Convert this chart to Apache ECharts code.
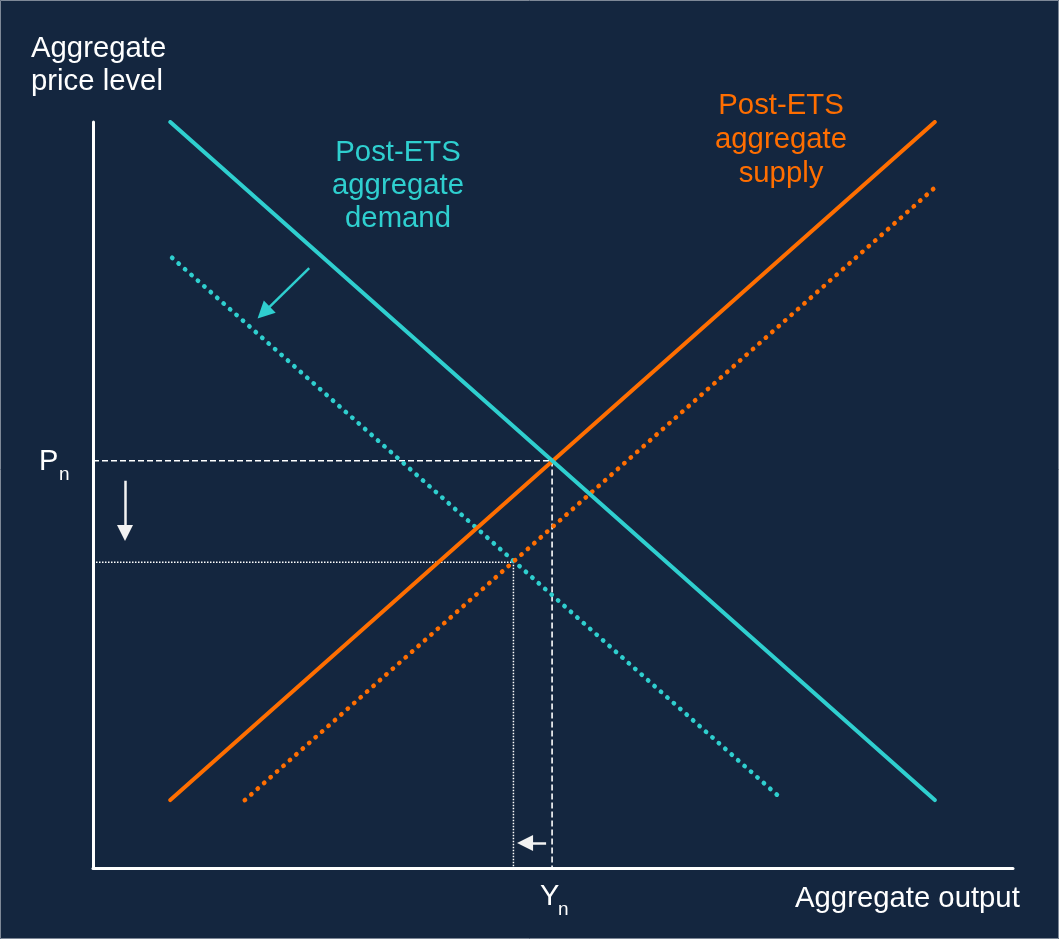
<!DOCTYPE html>
<html>
<head>
<meta charset="utf-8">
<title>Aggregate demand and supply after ETS</title>
<script src="https://cdn.jsdelivr.net/npm/echarts@6/dist/echarts.min.js"></script>
<style>
  html, body { margin: 0; padding: 0; background: #14263F; }
  #chart { width: 1059px; height: 939px; }
</style>
</head>
<body>
<div id="chart"></div>
<script>
// Curves as [output, price] end points on a 0–100 scale
const demandSolid = [[8.4, 100], [91.5, 9.1]];
const demandDotted = [[8.6, 81.8], [75.0, 9.1]];
const supplySolid = [[8.4, 9.1], [91.5, 100]];
const supplyDotted = [[16.5, 9.1], [91.5, 91.2]];

// Equilibria
const pn = 54.6, yn = 49.9;       // original
const p2 = 41.0, y2 = 45.7;       // after the shift

// Shift arrows [from, to]; "to" is the centre of the arrow head
const demandArrow = [[23.5, 80.4], [18.55, 74.45]];
const priceArrow = [[3.48, 51.9], [3.48, 44.9]];
const outputArrow = [[49.25, 3.35], [46.96, 3.35]];

// Text
const yAxisTitle = ['Aggregate', 'price level'];
const xAxisTitle = 'Aggregate output';
const demandLabel = 'Post-ETS\naggregate\ndemand';
const supplyLabel = 'Post-ETS\naggregate\nsupply';

const TEAL = '#2FCFCF';
const ORANGE = '#FF6E00';
const WHITE = '#FFFFFF';
const FONT = '"Liberation Sans", Arial, sans-serif';
const SIZE = '29.3px ';

const chart = echarts.init(document.getElementById('chart'), null, { renderer: 'canvas' });

function lineSeries(data, color, dotted) {
  return {
    type: 'line',
    data: data,
    symbol: 'none',
    silent: true,
    animation: false,
    lineStyle: dotted
      ? { color: color, width: 4.6, type: [0.3, 8.3], cap: 'round' }
      : { color: color, width: 4, cap: 'round' }
  };
}

function guideSeries(x, y, dash, width) {
  return {
    type: 'line',
    data: [[0, y], [x, y], [x, 0]],
    symbol: 'none',
    silent: true,
    animation: false,
    lineStyle: { color: WHITE, width: width, type: dash }
  };
}

function arrowSeries(coords, color, width, size) {
  return {
    type: 'lines',
    coordinateSystem: 'cartesian2d',
    silent: true,
    animation: false,
    symbol: ['none', 'triangle'],
    symbolSize: size,
    lineStyle: { color: color, width: width, opacity: 1, curveness: 0 },
    data: [{ coords: coords }]
  };
}

chart.setOption({
  backgroundColor: '#14263F',
  animation: false,
  grid: { left: 93, top: 122, width: 920, height: 746, containLabel: false },
  xAxis: {
    type: 'value', min: 0, max: 100,
    axisLine: { show: true, onZero: false, lineStyle: { color: WHITE, width: 3 } },
    axisTick: { show: false }, axisLabel: { show: false }, splitLine: { show: false }
  },
  yAxis: {
    type: 'value', min: 0, max: 100,
    axisLine: { show: true, onZero: false, lineStyle: { color: WHITE, width: 3 } },
    axisTick: { show: false }, axisLabel: { show: false }, splitLine: { show: false }
  },
  series: [
    guideSeries(yn, pn, [6, 3], 1.6),
    guideSeries(y2, p2, [1.5, 1.5], 1.5),
    lineSeries(demandDotted, TEAL, true),
    lineSeries(supplyDotted, ORANGE, true),
    lineSeries(supplySolid, ORANGE, false),
    lineSeries(demandSolid, TEAL, false),
    arrowSeries(demandArrow, TEAL, 2.5, [15, 17]),
    arrowSeries(priceArrow, '#F2F2F2', 2.5, [15, 16]),
    arrowSeries(outputArrow, '#F2F2F2', 2.5, [14, 16])
  ]
});

// Labels placed through the chart's own coordinate conversion
function px(pt) { return chart.convertToPixel({ gridIndex: 0 }, pt); }

const pnPx = px([0, pn]);
const ynPx = px([yn, 0]);

const texts = [
  { type: 'text', left: 31, top: 32,
    style: { text: yAxisTitle.join('\n'), fill: WHITE, font: SIZE + FONT, lineHeight: 33 } },
  { type: 'text', left: 795, top: 884,
    style: { text: xAxisTitle, fill: WHITE, font: SIZE + FONT } },
  { type: 'text', x: 398, y: 136,
    style: { text: demandLabel, fill: TEAL, font: SIZE + FONT, lineHeight: 33, align: 'center', verticalAlign: 'top' } },
  { type: 'text', x: 781, y: 89,
    style: { text: supplyLabel, fill: ORANGE, font: SIZE + FONT, lineHeight: 34, align: 'center', verticalAlign: 'top' } },
  // P subscript n
  { type: 'text', x: 39, y: pnPx[1] + 1,
    style: { text: 'P', fill: WHITE, font: '29px ' + FONT, verticalAlign: 'middle' } },
  { type: 'text', x: 59, y: pnPx[1] + 14,
    style: { text: 'n', fill: WHITE, font: '19px ' + FONT, verticalAlign: 'middle' } },
  // Y subscript n
  { type: 'text', x: ynPx[0] - 12, y: ynPx[1] + 29,
    style: { text: 'Y', fill: WHITE, font: '29px ' + FONT, verticalAlign: 'middle' } },
  { type: 'text', x: ynPx[0] + 6, y: ynPx[1] + 42,
    style: { text: 'n', fill: WHITE, font: '19px ' + FONT, verticalAlign: 'middle' } },
  // frame
  { type: 'rect', shape: { x: 0.5, y: 0.5, width: 1058, height: 938 },
    style: { fill: 'none', stroke: '#7E8897', lineWidth: 1 }, silent: true }
];

chart.setOption({ graphic: texts });
</script>
</body>
</html>
